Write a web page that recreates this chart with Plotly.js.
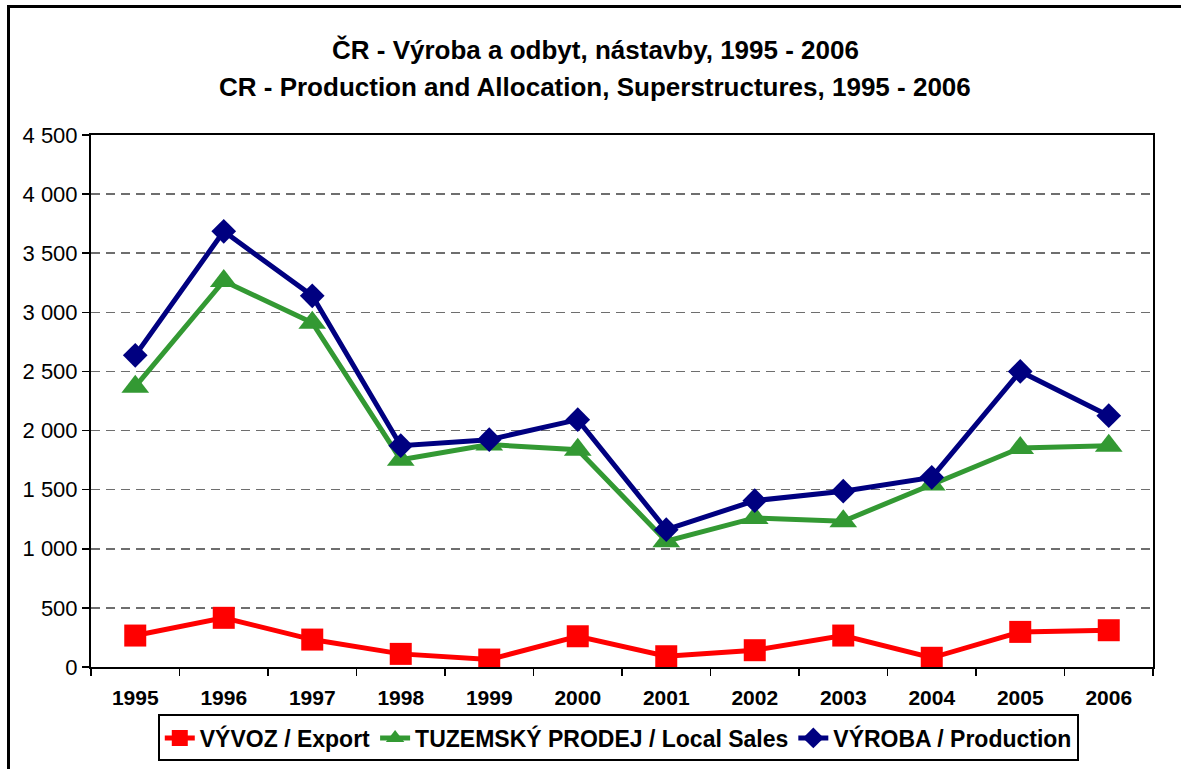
<!DOCTYPE html>
<html>
<head>
<meta charset="utf-8">
<script src="https://cdn.plot.ly/plotly-3.0.1.min.js"></script>
<style>
html,body{margin:0;padding:0;background:#fff;overflow:hidden;}
#chart{width:1181px;height:769px;}
#frame{position:absolute;left:7px;top:5px;width:1300px;height:900px;border-left:3px solid #000;border-top:3px solid #000;pointer-events:none;}
</style>
</head>
<body>
<div id="chart"></div>
<div id="frame"></div>
<script>
var years = ['1995','1996','1997','1998','1999','2000','2001','2002','2003','2004','2005','2006'];
var exportVals = [266, 416, 232, 111, 63, 260, 91, 142, 266, 78, 297, 311];
var localSales = [2371, 3265, 2912, 1754, 1881, 1838, 1064, 1261, 1233, 1543, 1853, 1872];
var production = [2636, 3685, 3140, 1872, 1923, 2092, 1162, 1407, 1487, 1604, 2500, 2126];
var seriesNames = ['VÝVOZ / Export', 'TUZEMSKÝ PRODEJ / Local Sales', 'VÝROBA / Production'];
var titleLine1 = 'ČR - Výroba a odbyt, nástavby, 1995 - 2006';
var titleLine2 = 'CR - Production and Allocation, Superstructures, 1995 - 2006';

var font = 'Liberation Sans, Arial, sans-serif';

var traces = [
  {x: years, y: exportVals, name: seriesNames[0], type: 'scatter', mode: 'lines+markers',
   line: {color: '#FF0000', width: 5}, marker: {symbol: 'square', size: 22, color: '#FF0000'}},
  {x: years, y: localSales, name: seriesNames[1], type: 'scatter', mode: 'lines+markers',
   line: {color: '#339933', width: 5}, marker: {symbol: 'triangle-up', size: 24, color: '#339933'}},
  {x: years, y: production, name: seriesNames[2], type: 'scatter', mode: 'lines+markers',
   line: {color: '#000080', width: 5}, marker: {symbol: 'diamond', size: 19, color: '#000080'}}
];

var layout = {
  width: 1181, height: 769,
  margin: {l: 91, r: 28, t: 135, b: 101.5, pad: 0, autoexpand: false},
  paper_bgcolor: '#fff', plot_bgcolor: '#fff',
  separators: ', ',
  font: {family: font, color: '#000'},
  showlegend: true,
  xaxis: {
    type: 'category', range: [-0.5, years.length - 0.5],
    tickson: 'boundaries', ticks: 'outside', ticklen: 7, tickwidth: 1.5, tickcolor: '#000',
    ticklabelstandoff: 11,
    showline: true, linecolor: '#000', linewidth: 2, mirror: true, showgrid: false, automargin: false,
    tickfont: {family: font, size: 21, weight: 700, color: '#000'}
  },
  yaxis: {
    range: [0, 4500], dtick: 500, tickformat: ',d', ticks: 'outside', ticklen: 7, tickwidth: 1.5, tickcolor: '#000',
    showline: true, linecolor: '#000', linewidth: 2, mirror: true, zeroline: false, automargin: false,
    showgrid: true, gridcolor: '#6e6e6e', gridwidth: 1.6, griddash: '9px,6px',
    tickfont: {family: font, size: 22, color: '#000'}
  },
  legend: {
    orientation: 'h', x: 0.4965, xanchor: 'center', y: -0.0892, yanchor: 'top',
    bordercolor: '#000', borderwidth: 2, bgcolor: '#fff',
    font: {family: font, size: 23, weight: 700, color: '#000'},
    itemwidth: 30, tracegroupgap: 0
  },
  annotations: [
    {text: '<b>' + titleLine1 + '</b>', xref: 'paper', yref: 'paper', x: 0.4746, y: (667.5 - 50) / 532.5,
     xanchor: 'center', yanchor: 'middle', showarrow: false, font: {family: font, size: 26, color: '#000'}},
    {text: '<b>' + titleLine2 + '</b>', xref: 'paper', yref: 'paper', x: 0.4746, y: (667.5 - 87) / 532.5,
     xanchor: 'center', yanchor: 'middle', showarrow: false, font: {family: font, size: 26, color: '#000'}}
  ]
};

Plotly.newPlot('chart', traces, layout, {displayModeBar: false, staticPlot: true});
</script>
</body>
</html>
